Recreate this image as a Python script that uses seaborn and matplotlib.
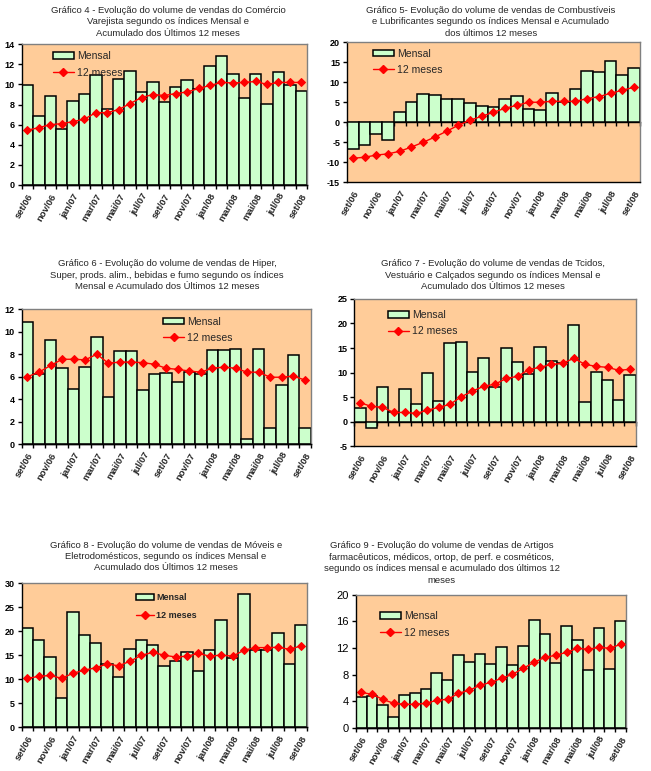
import numpy as np
import pandas as pd
import seaborn as sns
import matplotlib.pyplot as plt
from matplotlib.patches import Patch
from matplotlib.lines import Line2D

# ---------------------------------------------------------
# dados
# ---------------------------------------------------------
meses = ['set/06', 'out/06', 'nov/06', 'dez/06', 'jan/07', 'fev/07', 'mar/07',
         'abr/07', 'mai/07', 'jun/07', 'jul/07', 'ago/07', 'set/07', 'out/07',
         'nov/07', 'dez/07', 'jan/08', 'fev/08', 'mar/08', 'abr/08', 'mai/08',
         'jun/08', 'jul/08', 'ago/08', 'set/08']

# Gráfico 4 - Comércio Varejista
mensal_g4 = [9.9, 6.9, 8.9, 5.6, 8.4, 9.1, 10.9, 7.6, 10.5, 11.3, 9.2, 10.2, 8.3,
             9.7, 10.4, 9.5, 11.8, 12.8, 11.0, 8.7, 11.0, 8.1, 11.2, 9.9, 9.3]
acum_g4 = [5.45, 5.7, 6.0, 6.1, 6.3, 6.55, 7.2, 7.2, 7.5, 8.1, 8.7, 9.0, 8.9,
           9.1, 9.25, 9.6, 9.9, 10.2, 10.15, 10.2, 10.3, 10.0, 10.2, 10.2, 10.2]

# Gráfico 5 - Combustíveis e Lubrificantes
mensal_g5 = [-6.75, -5.75, -3.0, -4.5, 2.5, 5.0, 7.0, 6.75, 5.75, 5.75, 4.75, 4.0,
             3.75, 5.75, 6.5, 3.25, 3.0, 7.25, 5.1, 8.25, 12.75, 12.5, 15.25,
             11.75, 13.5]
acum_g5 = [-9.0, -8.75, -8.2, -7.9, -7.25, -6.2, -5.0, -3.7, -2.25, -0.75, 0.5,
           1.5, 2.5, 3.5, 4.25, 5.0, 5.0, 5.25, 5.2, 5.25, 5.9, 6.4, 7.25, 8.0, 8.75]

# Gráfico 6 - Hiper, Super, prods. alim., bebidas e fumo
mensal_g6 = [10.85, 6.2, 9.25, 6.75, 4.9, 6.9, 9.5, 4.15, 8.25, 8.25, 4.8, 6.2,
             6.3, 5.5, 6.4, 6.2, 8.35, 8.35, 8.45, 0.45, 8.45, 1.4, 5.3, 7.9, 1.4]
acum_g6 = [6.0, 6.4, 7.0, 7.55, 7.55, 7.5, 8.0, 7.2, 7.3, 7.3, 7.25, 7.1, 6.75,
           6.65, 6.5, 6.4, 6.75, 6.85, 6.75, 6.4, 6.4, 5.95, 5.95, 6.05, 5.7]

# Gráfico 7 - Tecidos, Vestuário e Calçados
mensal_g7 = [2.7, -1.4, 7.0, 2.0, 6.6, 3.5, 10.0, 4.1, 15.95, 16.2, 10.2, 12.9,
             7.0, 15.1, 12.1, 9.6, 15.3, 12.4, 11.9, 19.6, 3.9, 10.2, 8.4, 4.3, 9.4]
acum_g7 = [3.85, 3.1, 2.9, 1.85, 1.85, 1.65, 2.3, 2.9, 3.5, 5.05, 6.2, 7.2, 7.6,
           8.8, 9.2, 10.6, 11.05, 11.65, 11.85, 12.9, 11.65, 11.25, 11.05, 10.45, 10.65]

# Gráfico 8 - Móveis e Eletrodomésticos
mensal_g8 = [20.6, 18.1, 14.6, 6.0, 24.0, 19.2, 17.5, 13.1, 10.4, 16.25, 18.1,
             17.1, 12.7, 13.75, 15.6, 11.65, 16.0, 22.3, 14.4, 27.7, 16.0, 16.0,
             19.6, 13.1, 21.25]
acum_g8 = [10.2, 10.6, 10.8, 10.2, 11.25, 11.9, 12.4, 13.2, 12.8, 13.75, 15.0,
           15.6, 15.0, 14.65, 14.8, 15.4, 14.8, 15.05, 14.8, 16.05, 16.6, 16.6,
           16.65, 16.25, 16.95]

# Gráfico 9 - Artigos farmacêuticos, médicos, ortop., perf. e cosméticos
mensal_g9 = [4.6, 4.75, 3.4, 1.6, 4.9, 5.2, 5.8, 8.2, 7.15, 10.9, 9.85, 11.05,
             9.55, 12.1, 9.4, 12.25, 16.15, 14.05, 9.7, 15.25, 13.15, 8.65, 14.95,
             8.8, 16.0]
acum_g9 = [5.35, 5.05, 4.3, 3.7, 3.55, 3.55, 3.7, 4.15, 4.3, 5.2, 5.65, 6.4, 6.85,
           7.45, 8.05, 8.95, 9.85, 10.6, 10.9, 11.35, 11.95, 11.8, 12.1, 11.95, 12.55]

# ---------------------------------------------------------
# estilo
# ---------------------------------------------------------
sns.set_theme(style='ticks')
plt.rcParams['font.family'] = ['Liberation Sans', 'DejaVu Sans']

VERDE = '#CCFFCC'
FUNDO = '#FFCC99'
CINZA = '#808080'
MARCA = 4.0

fig = plt.figure(figsize=(6.51, 7.71), dpi=100)


def painel(rect, mensal, acum, ylim, yticks, titulo, tit_xy, leg_xy,
           ytick_font=dict(size=6.5, weight='bold'), leg_font=dict(size=7.5),
           leg_esp=0.6):
    ax = fig.add_axes(rect)
    ax.set_facecolor(FUNDO)
    df = pd.DataFrame({'mes': meses, 'mensal': mensal, 'acum': acum})

    sns.barplot(data=df, x='mes', y='mensal', color=VERDE, saturation=1,
                width=1, edgecolor='black', linewidth=1.1, ax=ax)
    sns.pointplot(data=df, x='mes', y='acum', color='red', markers='D',
                  markersize=MARCA, linewidth=1, errorbar=None, ax=ax)

    ax.set_xlim(-0.5, len(meses) - 0.5)
    ax.set_ylim(*ylim)
    ax.set_yticks(yticks)
    ax.set_yticklabels([str(v) for v in yticks], fontdict=ytick_font)
    ax.tick_params(axis='y', length=3, width=1, direction='out', pad=2,
                   left=True, colors='black')

    # rótulos dos meses (a cada dois)
    ax.set_xticks(range(0, len(meses), 2))
    ax.set_xticklabels(meses[::2], rotation=60, ha='right',
                       rotation_mode='anchor', fontsize=6.8, fontweight='bold')
    ax.tick_params(axis='x', length=0, pad=5)
    ax.set_xlabel('')
    ax.set_ylabel('')

    # eixo x com marcas nos limites das barras, na linha do zero
    frac = (0 - ylim[0]) / (ylim[1] - ylim[0])
    sec = ax.secondary_xaxis(frac)
    sec.set_xticks(np.arange(-0.5, len(meses), 1))
    sec.set_xticklabels([])
    sec.tick_params(axis='x', length=3, width=1, direction='out', colors='black')
    sec.spines['bottom'].set_color('black')
    sec.spines['bottom'].set_linewidth(1)

    for lado in ['top', 'right']:
        ax.spines[lado].set_color(CINZA)
        ax.spines[lado].set_linewidth(1)
    for lado in ['left', 'bottom']:
        ax.spines[lado].set_color('black')
        ax.spines[lado].set_linewidth(1)

    handles = [Patch(facecolor=VERDE, edgecolor='black', linewidth=1.1, label='Mensal'),
               Line2D([], [], color='red', marker='D', markersize=MARCA, linewidth=1,
                      label='12 meses')]
    ax.legend(handles=handles, loc='upper left', bbox_to_anchor=leg_xy,
              frameon=False, prop=leg_font, handlelength=2.0, handleheight=0.6,
              handletextpad=0.3, labelspacing=leg_esp, borderpad=0, borderaxespad=0)

    fig.text(tit_xy[0], tit_xy[1], titulo, ha='center', va='center',
             fontsize=6.8, linespacing=1.35)
    return ax


painel([0.0333, 0.7601, 0.4383, 0.1825], mensal_g4, acum_g4, (0, 14),
       list(range(0, 15, 2)),
       'Gráfico 4 - Evolução do volume de vendas do Comércio\n'
       'Varejista segundo os índices Mensal e\n'
       'Acumulado dos Últimos 12 meses',
       (0.258, 0.9715), (0.11, 0.95))

painel([0.533, 0.7636, 0.450, 0.1816], mensal_g5, acum_g5, (-15, 20),
       list(range(-15, 21, 5)),
       'Gráfico 5- Evolução do volume de vendas de Combustíveis\n'
       'e Lubrificantes segundo os índices Mensal e Acumulado\n'
       'dos últimos 12 meses',
       (0.754, 0.9715), (0.089, 0.955))

painel([0.0333, 0.4241, 0.4439, 0.1747], mensal_g6, acum_g6, (0, 12),
       list(range(0, 13, 2)),
       'Gráfico 6 - Evolução do volume de vendas de Hiper,\n'
       'Super, prods. alim., bebidas e fumo segundo os índices\n'
       'Mensal e Acumulado dos Últimos 12 meses',
       (0.257, 0.6433), (0.49, 0.945))

painel([0.5442, 0.4215, 0.4323, 0.1907], mensal_g7, acum_g7, (-5, 25),
       list(range(-5, 26, 5)),
       'Gráfico 7 - Evolução do volume de vendas de Tcidos,\n'
       'Vestuário e Calçados segundo os índices Mensal e\n'
       'Acumulado dos Últimos 12 meses',
       (0.757, 0.6433), (0.119, 0.925))

painel([0.0333, 0.0567, 0.4378, 0.1868], mensal_g8, acum_g8, (0, 30),
       list(range(0, 31, 5)),
       'Gráfico 8 - Evolução do volume de vendas de Móveis e\n'
       'Eletrodomésticos, segundo os índices Mensal e\n'
       'Acumulado dos Últimos 12 meses',
       (0.255, 0.2782), (0.40, 0.93),
       leg_font=dict(size=6.5, weight='bold'), leg_esp=0.95)

painel([0.5464, 0.0558, 0.4152, 0.1729], mensal_g9, acum_g9, (0, 20),
       list(range(0, 21, 4)),
       'Gráfico 9 - Evolução do volume de vendas de Artigos\n'
       'farmacêuticos, médicos, ortop, de perf. e cosméticos,\n'
       'segundo os índices mensal e acumulado dos últimos 12\n'
       'meses',
       (0.6785, 0.2698), (0.09, 0.875),
       ytick_font=dict(size=8))

plt.savefig('out.png', dpi=100)
